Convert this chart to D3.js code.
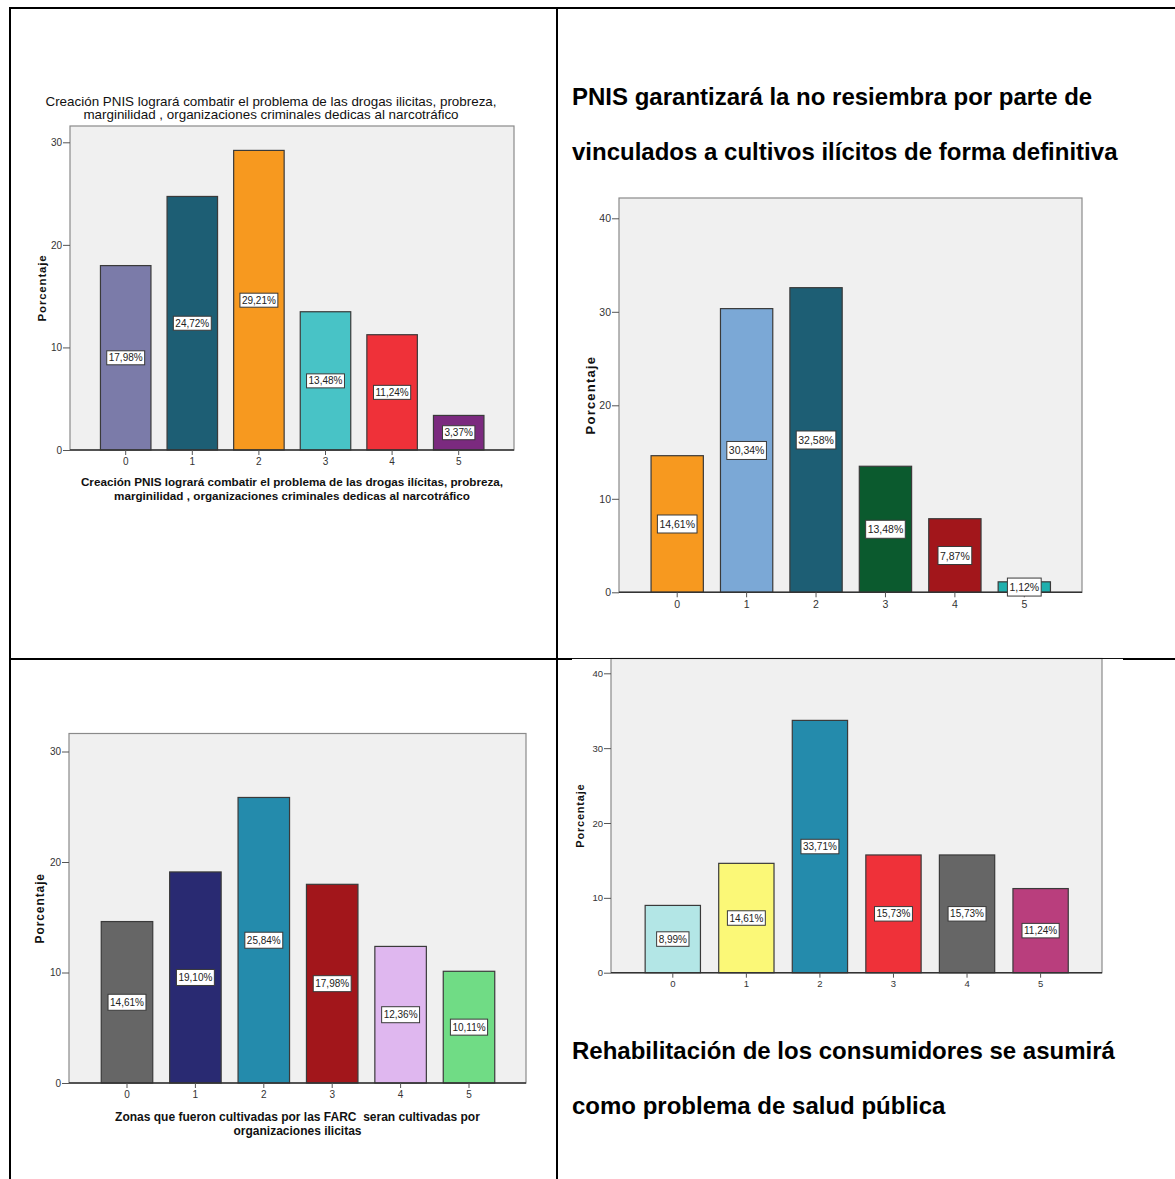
<!DOCTYPE html>
<html>
<head>
<meta charset="utf-8">
<script src="https://cdn.jsdelivr.net/npm/d3@7"></script>
<style>
  html, body { margin: 0; padding: 0; background: #ffffff; }
  svg { display: block; }
  text { font-family: "Liberation Sans", Arial, sans-serif; white-space: pre; }
</style>
</head>
<body>
<svg id="page" width="1175" height="1179"></svg>
<script>
// ---------------- DATA ----------------
const categories = ["0", "1", "2", "3", "4", "5"];

const valuesCombatir  = [17.98, 24.72, 29.21, 13.48, 11.24, 3.37];
const valuesResiembra = [14.61, 30.34, 32.58, 13.48, 7.87, 1.12];
const valuesZonas     = [14.61, 19.10, 25.84, 17.98, 12.36, 10.11];
const valuesRehab     = [8.99, 14.61, 33.71, 15.73, 15.73, 11.24];

const colorsCombatir  = ["#7b7ba9", "#1d5e74", "#f7991f", "#48c3c6", "#ef3139", "#7b2a7f"];
const colorsResiembra = ["#f7991f", "#7ba8d6", "#1d5e74", "#0b5a2e", "#a2161b", "#1fb0ae"];
const colorsZonas     = ["#666666", "#292a72", "#248bac", "#a2161b", "#dfb7ef", "#70dc85"];
const colorsRehab     = ["#b3e6e6", "#fbf877", "#248bac", "#ef3139", "#666666", "#b93e7d"];

const ticks30 = [0, 10, 20, 30];
const ticks40 = [0, 10, 20, 30, 40];

const yAxisTitle = "Porcentaje";
const titleCombatir = ["Creación PNIS logrará combatir el problema de las drogas ilicitas, probreza,",
                       "marginilidad , organizaciones criminales dedicas al narcotráfico"];
const xTitleCombatir = ["Creación PNIS logrará combatir el problema de las drogas ilícitas, probreza,",
                        "marginilidad , organizaciones criminales dedicas al narcotráfico"];
const xTitleZonas = ["Zonas que fueron cultivadas por las FARC  seran cultivadas por",
                     "organizaciones ilicitas"];
const headingResiembra = ["PNIS garantizará la no resiembra por parte de",
                          "vinculados a cultivos ilícitos de forma definitiva"];
const headingRehab = ["Rehabilitación de los consumidores se asumirá",
                      "como problema de salud pública"];

// ---------------- LAYOUT ----------------
const svg = d3.select("#page");
svg.append("rect").attr("width", 1175).attr("height", 1179).attr("fill", "#fff");

const esLocale = d3.formatLocale({ decimal: ",", thousands: ".", grouping: [3], currency: ["", "€"] });
const fmt = esLocale.format(".2f");

function drawChart(cfg) {
  const g = svg.append("g");
  const f = cfg.frame;
  const n = categories.length;
  const pad = 1 - cfg.bw / cfg.step;
  const x = d3.scaleBand()
    .domain(categories)
    .range([cfg.c0 - cfg.step / 2, cfg.c0 + (n - 0.5) * cfg.step])
    .paddingInner(pad)
    .paddingOuter(pad / 2);
  const topTick = cfg.ticks[cfg.ticks.length - 1];
  const y = d3.scaleLinear().domain([0, topTick]).range([f.y1, cfg.topTickY]);

  // plot background + frame
  g.append("rect")
    .attr("x", f.x0).attr("y", f.y0)
    .attr("width", f.x1 - f.x0).attr("height", f.y1 - f.y0)
    .attr("fill", "#f0f0f0").attr("stroke", "#8a8a8a").attr("stroke-width", 1.2);

  // bars
  g.selectAll("rect.bar").data(cfg.values).join("rect")
    .attr("class", "bar")
    .attr("x", (d, i) => x(categories[i]))
    .attr("y", d => y(d))
    .attr("width", x.bandwidth())
    .attr("height", d => y(0) - y(d))
    .attr("fill", (d, i) => cfg.colors[i])
    .attr("stroke", "#3a3a3a").attr("stroke-width", 1.2);

  // y axis
  const yAxis = d3.axisLeft(y).tickValues(cfg.ticks).tickSize(7).tickPadding(1).tickFormat(d3.format("d"));
  const ya = g.append("g").attr("transform", `translate(${f.x0},0)`).call(yAxis);
  ya.select(".domain").remove();
  ya.selectAll(".tick line").attr("stroke", "#555");
  ya.selectAll(".tick text").attr("fill", "#333").style("font-size", cfg.tickFont + "px")
    .style("font-family", "Liberation Sans, Arial, sans-serif");

  // x axis
  const xAxis = d3.axisBottom(x).tickSize(5).tickPadding(3);
  const xa = g.append("g").attr("transform", `translate(0,${f.y1})`).call(xAxis);
  xa.select(".domain").attr("d", `M${f.x0},0H${f.x1}`).attr("stroke", "#333").attr("stroke-width", 1.6);
  xa.selectAll(".tick line").attr("stroke", "#555");
  xa.selectAll(".tick text").attr("fill", "#333").style("font-size", cfg.tickFont + "px")
    .style("font-family", "Liberation Sans, Arial, sans-serif");

  // value labels
  const lab = g.selectAll("g.lab").data(cfg.values).join("g")
    .attr("class", "lab")
    .attr("transform", (d, i) => `translate(${x(categories[i]) + x.bandwidth() / 2},${y(d / 2)})`);
  lab.append("rect").attr("fill", "#fff").attr("stroke", "#3a3a3a").attr("stroke-width", 1);
  const tx = lab.append("text")
    .attr("text-anchor", "middle").attr("dominant-baseline", "central")
    .style("font-size", cfg.labelFont + "px").attr("fill", "#222")
    .text(d => fmt(d) + "%");
  tx.each(function () {
    const w = this.getComputedTextLength() + 4;
    d3.select(this.parentNode).select("rect")
      .attr("x", -w / 2).attr("y", -cfg.labelH / 2).attr("width", w).attr("height", cfg.labelH);
  });

  // y title
  g.append("text")
    .attr("transform", `translate(${cfg.yTitleX},${(f.y0 + f.y1) / 2}) rotate(-90)`)
    .attr("text-anchor", "middle").attr("dominant-baseline", "central")
    .style("font-size", cfg.yTitleFont + "px").style("font-weight", "bold")
    .style("letter-spacing", cfg.yTitleSpacing + "px")
    .attr("fill", "#111")
    .text(yAxisTitle);

  // x title
  if (cfg.xTitle) {
    g.selectAll("text.xt").data(cfg.xTitle).join("text")
      .attr("class", "xt")
      .attr("x", (f.x0 + f.x1) / 2)
      .attr("y", (d, i) => cfg.xTitleY + i * 13.5)
      .attr("text-anchor", "middle")
      .style("font-size", cfg.xTitleFont + "px").style("font-weight", "bold")
      .attr("fill", "#111")
      .text(d => d);
  }
  // chart title
  if (cfg.title) {
    g.selectAll("text.ct").data(cfg.title).join("text")
      .attr("class", "ct")
      .attr("x", cfg.titleX)
      .attr("y", (d, i) => cfg.titleY + i * 13)
      .attr("text-anchor", "middle")
      .style("font-size", "13.4px")
      .attr("fill", "#111")
      .text(d => d);
  }
}

// Chart A: top-left
drawChart({
  values: valuesCombatir, colors: colorsCombatir, ticks: ticks30,
  frame: { x0: 70, x1: 514, y0: 126, y1: 450 }, topTickY: 142.3,
  c0: 125.7, step: 66.6, bw: 50.5,
  tickFont: 10, labelFont: 10, labelH: 14,
  yTitleX: 42, yTitleFont: 11.5, yTitleSpacing: 0.8,
  xTitle: xTitleCombatir, xTitleY: 486, xTitleFont: 11.7,
  title: titleCombatir, titleX: 271, titleY: 106
});

// Chart B: top-right
drawChart({
  values: valuesResiembra, colors: colorsResiembra, ticks: ticks40,
  frame: { x0: 619, x1: 1082, y0: 198, y1: 592.3 }, topTickY: 218.3,
  c0: 677.2, step: 69.42, bw: 52.3,
  tickFont: 10.5, labelFont: 10.5, labelH: 18,
  yTitleX: 590, yTitleFont: 13, yTitleSpacing: 1.2
});

// Chart C: bottom-left
drawChart({
  values: valuesZonas, colors: colorsZonas, ticks: ticks30,
  frame: { x0: 69, x1: 526, y0: 733.5, y1: 1083 }, topTickY: 751.5,
  c0: 127, step: 68.4, bw: 51.5,
  tickFont: 10, labelFont: 10, labelH: 16,
  yTitleX: 40, yTitleFont: 12, yTitleSpacing: 0.9,
  xTitle: xTitleZonas, xTitleY: 1121, xTitleFont: 12,
});

// Chart D: bottom-right
drawChart({
  values: valuesRehab, colors: colorsRehab, ticks: ticks40,
  frame: { x0: 611, x1: 1102, y0: 658.5, y1: 972.7 }, topTickY: 673.3,
  c0: 672.8, step: 73.56, bw: 55.3,
  tickFont: 9.5, labelFont: 10, labelH: 14.5,
  yTitleX: 580, yTitleFont: 11, yTitleSpacing: 0.8
});

// Headings (document text)
function heading(lines, x, y0, gap) {
  svg.selectAll(null).data(lines).join("text")
    .attr("x", x).attr("y", (d, i) => y0 + i * gap)
    .style("font-size", "24px").style("font-weight", "bold")
    .attr("fill", "#000")
    .text(d => d);
}
heading(headingResiembra, 572, 105, 55);
heading(headingRehab, 572, 1059, 55);

// Table grid lines
const grid = svg.append("g").attr("stroke", "#000").attr("stroke-width", 2);
grid.append("line").attr("x1", 9).attr("x2", 1175).attr("y1", 8).attr("y2", 8);
grid.append("line").attr("x1", 10).attr("x2", 10).attr("y1", 7).attr("y2", 1179);
grid.append("line").attr("x1", 557).attr("x2", 557).attr("y1", 7).attr("y2", 1179);
grid.append("line").attr("x1", 9).attr("x2", 572).attr("y1", 659).attr("y2", 659);
grid.append("line").attr("x1", 1123).attr("x2", 1175).attr("y1", 659).attr("y2", 659);
svg.append("line").attr("x1", 572).attr("x2", 1123).attr("y1", 658.5).attr("y2", 658.5)
  .attr("stroke", "#111").attr("stroke-width", 1);
</script>
</body>
</html>
